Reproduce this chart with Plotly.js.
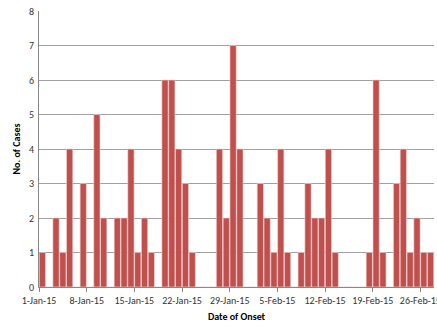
<!DOCTYPE html>
<html>
<head>
<meta charset="utf-8">
<script src="https://cdn.plot.ly/plotly-3.0.1.min.js"></script>
<style>html,body{margin:0;padding:0;background:#fff;}#chart{width:437px;height:328px;}</style>
</head>
<body>
<div id="chart"></div>
<script>
const dates = [
  "2015-01-01","2015-01-02","2015-01-03","2015-01-04","2015-01-05","2015-01-06","2015-01-07",
  "2015-01-08","2015-01-09","2015-01-10","2015-01-11","2015-01-12","2015-01-13","2015-01-14",
  "2015-01-15","2015-01-16","2015-01-17","2015-01-18","2015-01-19","2015-01-20","2015-01-21",
  "2015-01-22","2015-01-23","2015-01-24","2015-01-25","2015-01-26","2015-01-27","2015-01-28",
  "2015-01-29","2015-01-30","2015-01-31","2015-02-01","2015-02-02","2015-02-03","2015-02-04",
  "2015-02-05","2015-02-06","2015-02-07","2015-02-08","2015-02-09","2015-02-10","2015-02-11",
  "2015-02-12","2015-02-13","2015-02-14","2015-02-15","2015-02-16","2015-02-17","2015-02-18",
  "2015-02-19","2015-02-20","2015-02-21","2015-02-22","2015-02-23","2015-02-24","2015-02-25",
  "2015-02-26","2015-02-27"
];
const cases = [
  1,0,2,1,4,0,3,
  0,5,2,0,2,2,4,
  1,2,1,0,6,6,4,
  3,1,0,0,0,4,2,
  7,4,0,0,3,2,1,
  4,1,0,1,3,2,2,
  4,1,0,0,0,0,1,
  6,1,0,3,4,1,2,
  1,1
];
const xTitle = "Date of Onset";
const yTitle = "No. of Cases";

const font = "Carlito, 'Liberation Sans', 'Noto Sans', sans-serif";

Plotly.newPlot("chart", [{
  type: "bar",
  x: dates,
  y: cases,
  xperiod: 86400000,
  xperiodalignment: "middle",
  marker: {color: "#c0504d", line: {color: "#f4d6d5", width: 0.6}},
  hoverinfo: "x+y"
}], {
  width: 437, height: 328,
  margin: {l: 39, r: 3, t: 11, b: 41},
  paper_bgcolor: "#fff", plot_bgcolor: "#fff",
  bargap: 0.08,
  showlegend: false,
  font: {family: font, size: 10, color: "#333"},
  xaxis: {
    type: "date",
    range: ["2015-01-01", "2015-02-28"],
    tick0: "2015-01-01",
    dtick: 7 * 86400000,
    tickformat: "%-d-%b-%y",
    ticklabeloverflow: "allow",
    ticks: "outside", ticklen: 4, tickcolor: "#888", tickwidth: 1,
    showline: true, linecolor: "#888", linewidth: 1,
    showgrid: false, zeroline: false,
    tickfont: {family: font, size: 10, color: "#333"},
    title: {text: xTitle, font: {family: font, size: 10, color: "#000", weight: "bold"}, standoff: 6}
  },
  yaxis: {
    range: [0, 8],
    dtick: 1,
    ticks: "", showline: true, linecolor: "#888", linewidth: 1,
    showgrid: true, gridcolor: "#a0a0a0", gridwidth: 1,
    zeroline: false,
    tickfont: {family: font, size: 10, color: "#333"},
    ticklabelstandoff: 2,
    title: {text: yTitle, font: {family: font, size: 10, color: "#000", weight: "bold"}, standoff: 6}
  }
}, {displayModeBar: false, staticPlot: true});
</script>
</body>
</html>
